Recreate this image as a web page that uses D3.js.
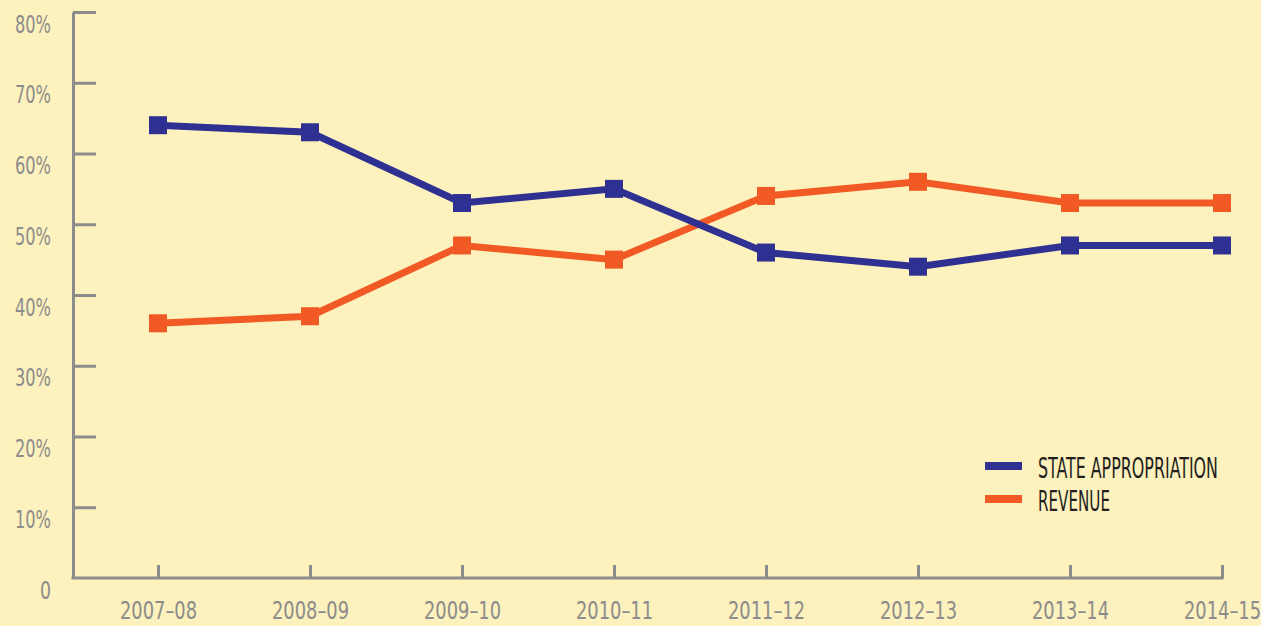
<!DOCTYPE html>
<html>
<head>
<meta charset="utf-8">
<script src="https://cdn.jsdelivr.net/npm/d3@7"></script>
<style>
  body { margin: 0; background: #fdf1bd; }
  svg { display: block; }
  text { font-family: "Liberation Sans Narrow", "DejaVu Sans Condensed", sans-serif; }
</style>
</head>
<body>
<div id="chart"></div>
<script>
// Chart data
const years = ["2007–08", "2008–09", "2009–10", "2010–11", "2011–12", "2012–13", "2013–14", "2014–15"];
const stateAppropriation = [64, 63, 53, 55, 46, 44, 47, 47];
const revenue = [36, 37, 47, 45, 54, 56, 53, 53];
const yTicks = [0, 10, 20, 30, 40, 50, 60, 70, 80];

const series = [
    { name: "REVENUE", values: revenue, color: "#f15a24" },
    { name: "STATE APPROPRIATION", values: stateAppropriation, color: "#2e3192" }
];

const svgWidth = 1261;
const svgHeight = 626;
const axisColor = "#8c8c8c";

const svg = d3.select("#chart")
    .append("svg")
    .attr("width", svgWidth)
    .attr("height", svgHeight);

svg.append("rect")
    .attr("width", svgWidth)
    .attr("height", svgHeight)
    .attr("fill", "#fdf1bd");

// Scales
const x = d3.scalePoint()
    .domain(years)
    .range([158, 1222]);

const y = d3.scaleLinear()
    .domain([0, 80])
    .range([578, 12]);

const yAxisX = 73;

// Y axis
const yAxis = svg.append("g")
    .attr("transform", `translate(${yAxisX},0)`)
    .call(d3.axisLeft(y)
        .tickValues(yTicks)
        .tickFormat(d => d === 0 ? "0" : d + "%")
        .tickSizeInner(-23)
        .tickSizeOuter(0)
        .tickPadding(22));

yAxis.selectAll("path, line")
    .attr("stroke", axisColor)
    .attr("stroke-width", 3);
yAxis.selectAll(".tick line").filter(d => d === 0).remove();
yAxis.selectAll("text")
    .attr("fill", axisColor)
    .style("font-size", "25px")
    .attr("dy", "0.8em")
    .attr("textLength", d => d === 0 ? 11 : 36)
    .attr("lengthAdjust", "spacingAndGlyphs");

// X axis
const xAxis = svg.append("g")
    .attr("transform", `translate(0,${y(0)})`)
    .call(d3.axisBottom(x)
        .tickSizeInner(-13)
        .tickSizeOuter(0)
        .tickPadding(23));

xAxis.select(".domain").remove();
xAxis.insert("line", ":first-child")
    .attr("x1", yAxisX - 1.5)
    .attr("x2", x.range()[1] + 1.5)
    .attr("stroke", axisColor)
    .attr("stroke-width", 3);
xAxis.selectAll(".tick line")
    .attr("stroke", axisColor)
    .attr("stroke-width", 3);
xAxis.selectAll("text")
    .attr("fill", axisColor)
    .style("font-size", "25px")
    .attr("textLength", 77)
    .attr("lengthAdjust", "spacingAndGlyphs");

// Lines and markers
const line = d3.line()
    .x((d, i) => x(years[i]))
    .y(d => y(d));

const groups = svg.selectAll(".series")
    .data(series)
    .enter()
    .append("g")
    .attr("class", "series");

groups.append("path")
    .attr("d", d => line(d.values))
    .attr("fill", "none")
    .attr("stroke", d => d.color)
    .attr("stroke-width", 7);

const markerSize = 18;
groups.selectAll("rect")
    .data(d => d.values.map((v, i) => ({ v, i, color: d.color })))
    .enter()
    .append("rect")
    .attr("x", d => x(years[d.i]) - markerSize / 2)
    .attr("y", d => y(d.v) - markerSize / 2)
    .attr("width", markerSize)
    .attr("height", markerSize)
    .attr("fill", d => d.color);

// Legend
const legendItems = [series[1], series[0]];
const legend = svg.append("g")
    .attr("transform", "translate(985,466)");

const legendRows = legend.selectAll("g")
    .data(legendItems)
    .enter()
    .append("g")
    .attr("transform", (d, i) => `translate(0,${i * 33})`);

legendRows.append("line")
    .attr("x1", 0)
    .attr("x2", 37)
    .attr("stroke", d => d.color)
    .attr("stroke-width", 8);

legendRows.append("text")
    .attr("x", 53)
    .attr("y", 12)
    .attr("fill", "#231f20")
    .style("font-size", "28px")
    .attr("textLength", d => d.name === "REVENUE" ? 72 : 180)
    .attr("lengthAdjust", "spacingAndGlyphs")
    .text(d => d.name);
</script>
</body>
</html>
